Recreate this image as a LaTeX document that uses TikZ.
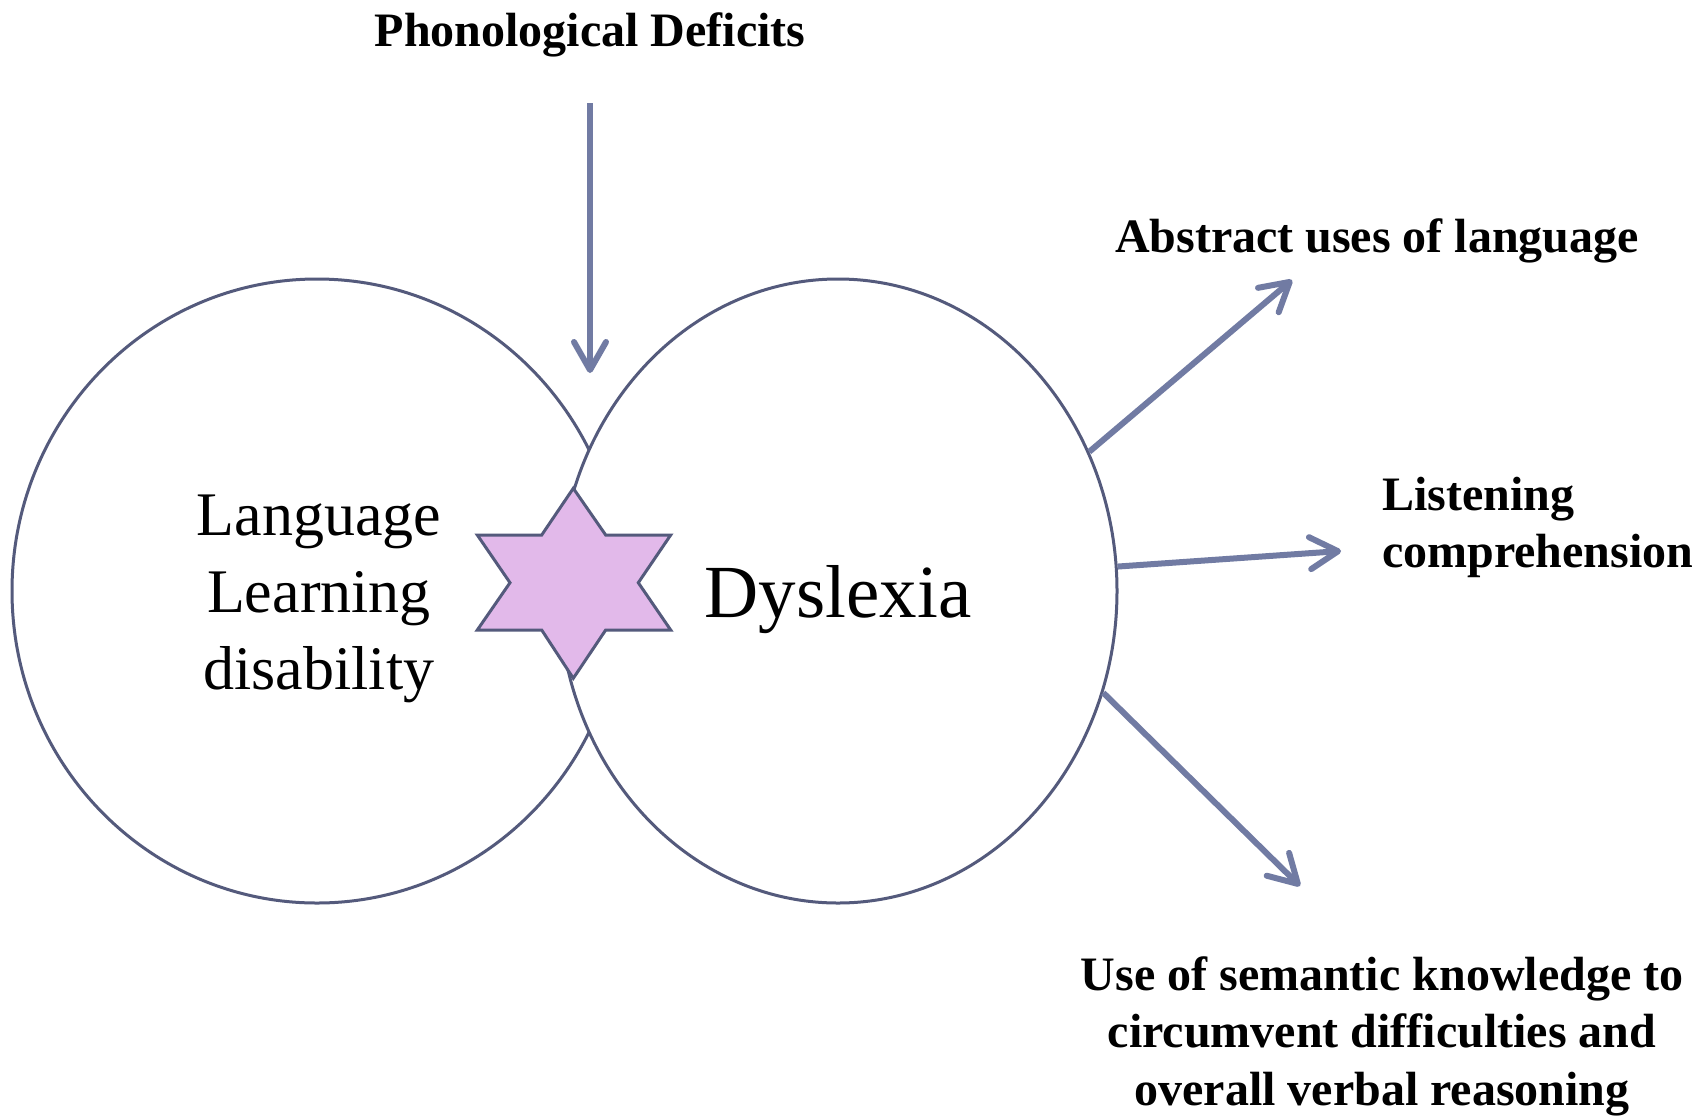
\documentclass[tikz,border=0pt]{standalone}
\usepackage{fontspec}
\setmainfont{Liberation Serif}
\usetikzlibrary{arrows.meta,shapes.geometric}
\definecolor{rimcol}{HTML}{545A7C}
\definecolor{arrowcol}{HTML}{717BA3}
\definecolor{starfill}{HTML}{E2B9EA}
\tikzset{
  ring/.style={ellipse, draw=rimcol, line width=3pt, fill=white, inner sep=0pt},
  flow/.style={draw=arrowcol, line width=6pt,
    -{Straight Barb[length=28pt,width=32pt,round]}},
  lbl/.style={font=\fontsize{48}{57.5}\selectfont\bfseries, inner sep=0pt, anchor=base},
  bigtext/.style={inner sep=0pt, anchor=base},
}
\begin{document}
\begin{tikzpicture}[x=1pt,y=-1pt]
\useasboundingbox (0,0) rectangle (1697,1117);
\fill[white] (0,0) rectangle (1697,1117);

% the two overlapping rings
\node[ring, minimum width=610pt, minimum height=624pt] (lld) at (317,591) {};
\node[ring, minimum width=558pt, minimum height=624pt] (dys) at (838,591) {};

% six-pointed star where the rings meet
\draw[draw=rimcol, fill=starfill, line width=3pt, line join=miter]
  (573.3,488.3) -- (605.7,535) -- (670.7,535) -- (638.3,582.7)
  -- (670.7,630) -- (605.7,630) -- (573.3,678.3) -- (541.7,630)
  -- (477.3,630) -- (510,582.7) -- (477.3,535) -- (541.7,535) -- cycle;

% ring labels
\node[bigtext, font=\fontsize{62}{77}\selectfont] (lldtext) at (319,535.7)
  {\begin{tabular}[t]{@{}c@{}}Language\\Learning\\disability\end{tabular}};
\node[bigtext, font=\fontsize{75}{90}\selectfont] (dystext) at (838,617) {Dyslexia};

% outer labels
\node[lbl] (phon) at (590,46) {Phonological Deficits};
\node[lbl] (abs) at (1377,252) {Abstract uses of language};
\node[lbl, anchor=base west] (listen) at (1382,510)
  {\begin{tabular}[t]{@{}l@{}}Listening\\comprehension\end{tabular}};
\node[lbl] (sem) at (1382,990)
  {\begin{tabular}[t]{@{}c@{}}Use of semantic knowledge to\\circumvent difficulties and\\overall verbal reasoning\end{tabular}};

% arrow ends
\coordinate (phonfoot) at (590,103);
\coordinate (phontip) at (590,373);
\coordinate (abstip) at (1292,280);
\coordinate (listentip) at (1341,551);
\coordinate (semtip) at (1300,886);

% arrows
\draw[flow] (phonfoot) -- (phontip);
\draw[flow] (dys.29) -- (abstip);
\draw[flow] (dys.5) -- (listentip);
\draw[flow] (dys.-21) -- (semtip);
\end{tikzpicture}
\end{document}
